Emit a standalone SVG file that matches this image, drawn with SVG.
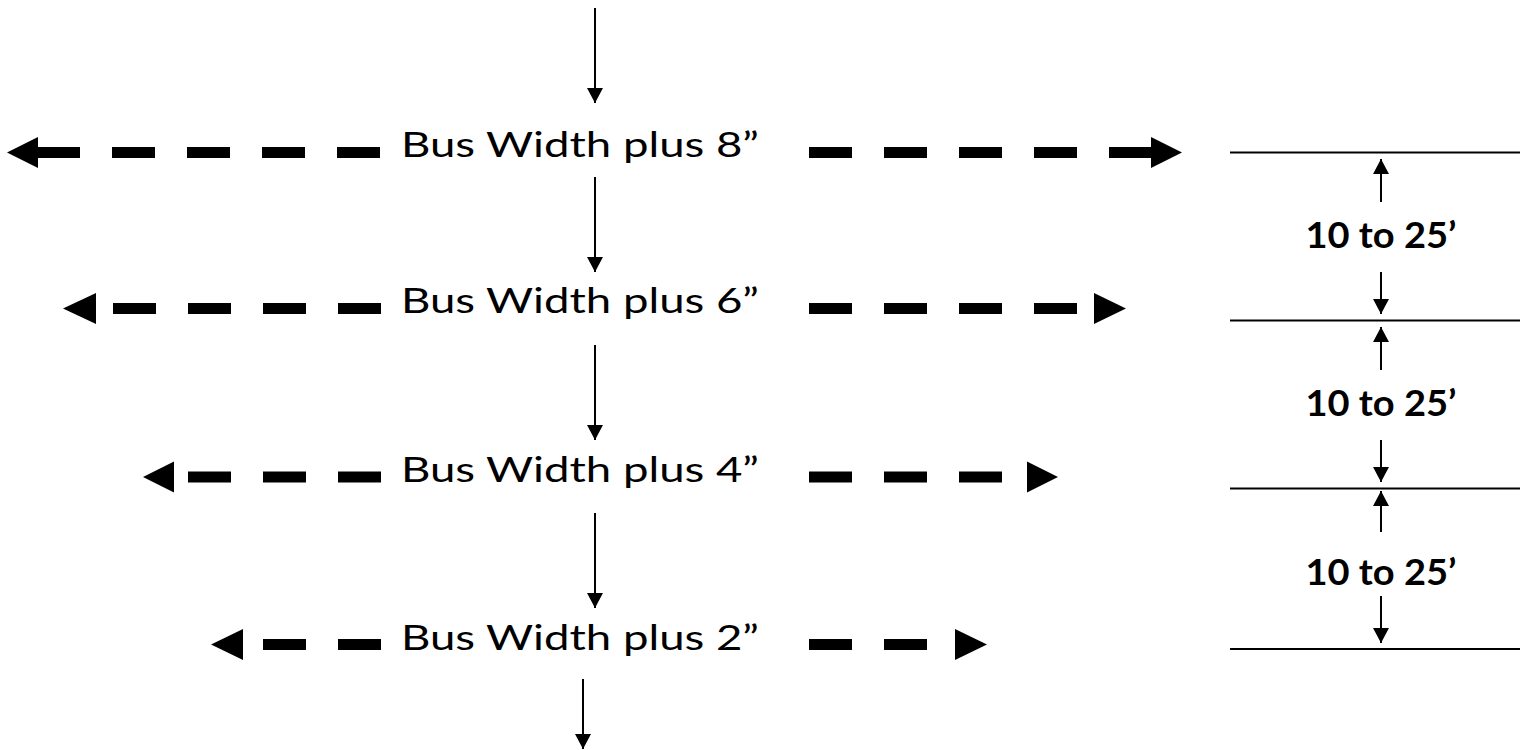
<svg xmlns="http://www.w3.org/2000/svg" width="1526" height="750" viewBox="0 0 1526 750">
<defs>
<style>
.lbl{font-family:Lato,"Liberation Sans",sans-serif;font-size:35px;fill:#000}
.dim{font-family:Lato,"Liberation Sans",sans-serif;font-size:36px;font-weight:bold;fill:#000;text-anchor:middle}
.dash{stroke:#000;stroke-width:11;stroke-dasharray:43 32;fill:none}
.thin{stroke:#000;stroke-width:2;fill:none}
.head{fill:#000}
</style>
<marker id="ah" markerUnits="userSpaceOnUse" markerWidth="16" markerHeight="16" viewBox="0 0 16 16" refX="15" refY="8" orient="auto">
<path d="M0,0 L15,8 L0,16 Z" fill="#000"/>
</marker>
</defs>
<rect width="1526" height="750" fill="#fff"/>

<g id="connectors">
<line class="thin" x1="595" y1="8" x2="595" y2="103" marker-end="url(#ah)"/>
<line class="thin" x1="595" y1="177" x2="595" y2="272" marker-end="url(#ah)"/>
<line class="thin" x1="595" y1="345" x2="595" y2="440" marker-end="url(#ah)"/>
<line class="thin" x1="595" y1="513" x2="595" y2="608" marker-end="url(#ah)"/>
<line class="thin" x1="583" y1="679" x2="583" y2="749" marker-end="url(#ah)"/>
</g>

<g id="row1">
<polygon class="head" points="7,152.5 38,137 38,168"/>
<line class="dash" x1="37" y1="152.5" x2="381" y2="152.5"/>
<line class="dash" x1="809" y1="152.5" x2="1153" y2="152.5"/>
<polygon class="head" points="1182,152.5 1151,137 1151,168"/>
<text class="lbl" x="401" y="157" textLength="358" lengthAdjust="spacingAndGlyphs">Bus Width plus 8”</text>
</g>

<g id="row2">
<polygon class="head" points="63,308.5 96,293 96,324"/>
<line class="dash" x1="113" y1="308.5" x2="381" y2="308.5"/>
<line class="dash" x1="809" y1="308.5" x2="1077" y2="308.5"/>
<polygon class="head" points="1126,308.5 1094,293 1094,324"/>
<text class="lbl" x="401" y="313" textLength="358" lengthAdjust="spacingAndGlyphs">Bus Width plus 6”</text>
</g>

<g id="row3">
<polygon class="head" points="143,477 174,461.5 174,492.5"/>
<line class="dash" x1="188" y1="477" x2="381" y2="477"/>
<line class="dash" x1="809" y1="477" x2="1002" y2="477"/>
<polygon class="head" points="1058,477 1027,461.5 1027,492.5"/>
<text class="lbl" x="401" y="482" textLength="358" lengthAdjust="spacingAndGlyphs">Bus Width plus 4”</text>
</g>

<g id="row4">
<polygon class="head" points="211,644.5 243,629 243,660"/>
<line class="dash" x1="263" y1="644.5" x2="381" y2="644.5"/>
<line class="dash" x1="809" y1="644.5" x2="927" y2="644.5"/>
<polygon class="head" points="987,644.5 955,629 955,660"/>
<text class="lbl" x="401" y="650" textLength="358" lengthAdjust="spacingAndGlyphs">Bus Width plus 2”</text>
</g>

<g id="dimensions">
<line class="thin" x1="1230" y1="152.5" x2="1520" y2="152.5"/>
<line class="thin" x1="1230" y1="320.5" x2="1520" y2="320.5"/>
<line class="thin" x1="1230" y1="488.5" x2="1520" y2="488.5"/>
<line class="thin" x1="1230" y1="649" x2="1520" y2="649"/>

<line class="thin" x1="1381" y1="202" x2="1381" y2="159" marker-end="url(#ah)"/>
<line class="thin" x1="1381" y1="272" x2="1381" y2="314" marker-end="url(#ah)"/>
<text class="dim" x="1381" y="248" textLength="151" lengthAdjust="spacingAndGlyphs">10 to 25’</text>

<line class="thin" x1="1381" y1="370" x2="1381" y2="327" marker-end="url(#ah)"/>
<line class="thin" x1="1381" y1="440" x2="1381" y2="482" marker-end="url(#ah)"/>
<text class="dim" x="1381" y="416" textLength="151" lengthAdjust="spacingAndGlyphs">10 to 25’</text>

<line class="thin" x1="1381" y1="532" x2="1381" y2="491" marker-end="url(#ah)"/>
<line class="thin" x1="1381" y1="596" x2="1381" y2="643" marker-end="url(#ah)"/>
<text class="dim" x="1381" y="585" textLength="151" lengthAdjust="spacingAndGlyphs">10 to 25’</text>
</g>
</svg>
